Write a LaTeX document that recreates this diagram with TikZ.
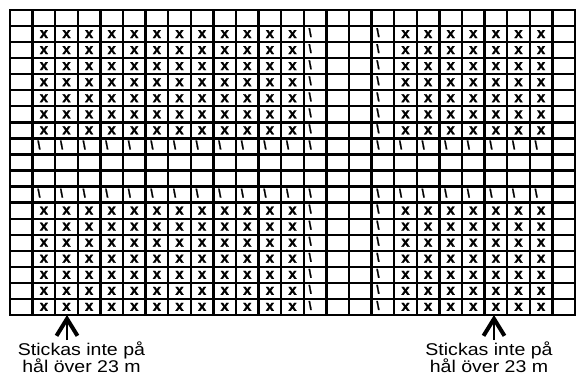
\documentclass[tikz,border=0pt]{standalone}
\usepackage{fontspec}
\setmainfont{Liberation Sans}
\newfontfamily\chartfont[BoldFeatures={FakeBold=1.3}]{Liberation Sans}
\newfontfamily\notefont[FakeStretch=1.15]{Liberation Sans}
\usetikzlibrary{arrows.meta}
\definecolor{ChartInk}{HTML}{000000}
\newcommand{\CellW}{22.6}
\newcommand{\CellH}{16.05}

\begin{document}
\begin{tikzpicture}[x=1pt,y=-1pt,
    every node/.style={inner sep=0pt,text=ChartInk},
    rule/.style={draw=ChartInk,line width=2.3pt,line cap=rect},
    stitch/.style={font=\chartfont\fontsize{15}{15}\selectfont\bfseries},
    slip/.style={anchor=base west,font=\chartfont\fontsize{12}{12}\selectfont\bfseries},
    note/.style={anchor=base,font=\notefont\fontsize{17}{16}\selectfont},
    pointer/.style={draw=ChartInk,line width=2pt,
      -{Straight Barb[length=17pt,width=21pt,line width=4pt]}}]
  \useasboundingbox (0,0) rectangle (576,376);
  \foreach \i in {0,...,25}
    \draw[rule] (10+\i*\CellW,10) -- (10+\i*\CellW,10+19*\CellH);
  \foreach \j in {0,...,19}
    \draw[rule] (10,10+\j*\CellH) -- (10+25*\CellW,10+\j*\CellH);
  \foreach \r in {2,3,4,5,6,7,8,13,14,15,16,17,18,19}{
    \foreach \c in {2,3,4,5,6,7,8,9,10,11,12,13,18,19,20,21,22,23,24}
      \node[stitch] (x-\r-\c) at (10+\c*\CellW-0.5*\CellW,10+\r*\CellH-0.5*\CellH) {x};
    \foreach \c in {14,17}
      \node[slip] (s-\r-\c) at (10+\c*\CellW-\CellW+4.5,10+\r*\CellH-\CellH+10.8) {\textbackslash};
  }
  \foreach \r in {9,12}
    \foreach \c in {2,3,4,5,6,7,8,9,10,11,12,13,14,17,18,19,20,21,22,23,24}
      \node[slip] (s-\r-\c) at (10+\c*\CellW-\CellW+4.5,10+\r*\CellH-\CellH+10.8) {\textbackslash};
  \coordinate (tipL) at (67,315);
  \coordinate (footL) at (67,340);
  \coordinate (tipR) at (494,315);
  \coordinate (footR) at (494,340);
  \draw[pointer] (footL) -- (tipL);
  \draw[pointer] (footR) -- (tipR);
  \node[note] (noteL1) at (81.5,355) {Stickas inte på};
  \node[note] (noteL2) at (81.5,372) {hål över 23 m};
  \node[note] (noteR1) at (489,355) {Stickas inte på};
  \node[note] (noteR2) at (489,372) {hål över 23 m};
\end{tikzpicture}
\end{document}
